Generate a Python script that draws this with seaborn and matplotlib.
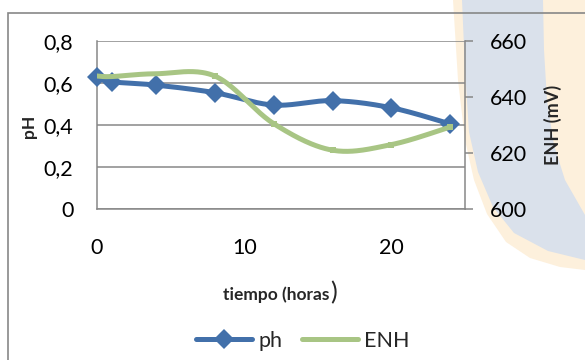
import numpy as np
import pandas as pd
import matplotlib
matplotlib.use("Agg")
import matplotlib.pyplot as plt
import seaborn as sns
from matplotlib.patches import Polygon, Rectangle
from matplotlib.lines import Line2D

# ---------------- data ----------------
tiempo = [0, 1, 4, 8, 12, 16, 20, 24]
ph = [0.63, 0.606, 0.59, 0.554, 0.495, 0.516, 0.482, 0.405]
enh = [647.5, 647.3, 648.3, 647.5, 630.5, 621.0, 623.0, 629.3]
x_ticks = [0, 10, 20]
ph_ticks = [0, 0.2, 0.4, 0.6, 0.8]
ph_tick_labels = ["0", "0,2", "0,4", "0,6", "0,8"]
enh_ticks = [600, 620, 640, 660]
enh_tick_labels = ["600", "620", "640", "660"]
series_names = ["ph", "ENH"]

BLUE = "#4270AA"
GREEN = "#A8C584"
GRAY = "#878787"

sns.set_theme(style="white")
plt.rcParams["font.family"] = ["Lato", "DejaVu Sans"]

W, H = 585, 360
fig = plt.figure(figsize=(W / 100, H / 100), dpi=100)
fig.patch.set_facecolor("white")


def fx(px):
    return px / W


def fy(py):
    return 1 - py / H


# ---------------- watermark (background logo fragment) ----------------
peach = [(453, 0), (585, 0), (585, 270), (560, 267), (530, 258), (506, 242),
         (487, 214), (474, 180), (465, 140), (458, 80)]
blue_band = [(462, 0), (543, 0), (544, 50), (547, 100), (554, 145), (565, 180),
             (585, 215), (585, 260), (548, 251), (514, 233), (493, 207),
             (478, 172), (469, 132), (465, 70)]
fig.patches.append(Polygon([(fx(a), fy(b)) for a, b in peach], closed=True,
                           transform=fig.transFigure, facecolor="#FDF0DC",
                           edgecolor="none", zorder=-10))
fig.patches.append(Polygon([(fx(a), fy(b)) for a, b in blue_band], closed=True,
                           transform=fig.transFigure, facecolor="#DAE1EB",
                           edgecolor="none", zorder=-9))

# outer chart border
fig.patches.append(Rectangle((fx(8), -0.5), 2, fy(13) + 0.5, fill=False,
                             transform=fig.transFigure, edgecolor=GRAY,
                             linewidth=1.2, zorder=5))


# ---------------- smoothing (Excel-like bezier rendering) ----------------
def smooth_curve(xs, ys, n=40):
    p = np.column_stack([xs, ys]).astype(float)
    out = []
    for i in range(len(p) - 1):
        p0 = p[i - 1] if i > 0 else p[i]
        p1 = p[i]
        p2 = p[i + 1]
        p3 = p[i + 2] if i + 2 < len(p) else p[i + 1]
        c1 = p1 + (p2 - p0) / 6.0
        c2 = p2 - (p3 - p1) / 6.0
        t = np.linspace(0, 1, n)[:, None]
        seg = ((1 - t) ** 3) * p1 + 3 * ((1 - t) ** 2) * t * c1 + \
            3 * (1 - t) * t ** 2 * c2 + t ** 3 * p2
        out.append(seg if i == 0 else seg[1:])
    c = np.vstack(out)
    return c[:, 0], c[:, 1]


df = pd.DataFrame({"tiempo": tiempo, "ph": ph, "enh": enh})

ax = fig.add_axes([fx(97), fy(209), (465 - 97) / W, (209 - 41) / H])
ax.patch.set_alpha(0)
ax2 = ax.twinx()
ax2.patch.set_alpha(0)

# pH series
sx, sy = smooth_curve(df["tiempo"], df["ph"])
sns.lineplot(x=sx, y=sy, ax=ax, color=BLUE, linewidth=3.6, sort=False,
             estimator=None, zorder=4)
ax.plot(df["tiempo"], df["ph"], linestyle="none", marker="D", markersize=10,
        color=BLUE, markeredgewidth=0, zorder=5, clip_on=False)

# ENH series
ex, ey = smooth_curve(df["tiempo"], df["enh"])
sns.lineplot(x=ex, y=ey, ax=ax2, color=GREEN, linewidth=3.6, sort=False,
             estimator=None, zorder=3)
ax2.plot(df["tiempo"][3:], df["enh"][3:], linestyle="none", marker="s",
         markersize=5, color=GREEN, markeredgewidth=0, zorder=3)

# axes styling
ax.set_xlim(0, 25)
ax.set_ylim(0, 0.8)
ax2.set_ylim(600, 660)
ax.set_xticks(x_ticks, labels=[str(v) for v in x_ticks])
ax.set_yticks(ph_ticks, labels=ph_tick_labels)
ax2.set_yticks(enh_ticks, labels=enh_tick_labels)
ax.set_xlabel("")
ax.set_ylabel("")
ax2.set_ylabel("")

ax.yaxis.grid(True, color=GRAY, linewidth=1.1)
ax.xaxis.grid(False)
ax2.grid(False)
ax.set_axisbelow(True)

for a in (ax, ax2):
    for s in a.spines.values():
        s.set_visible(False)
ax.spines["left"].set_visible(True)
ax.spines["left"].set_color(GRAY)
ax.spines["left"].set_linewidth(1.1)
ax.spines["bottom"].set_visible(True)
ax.spines["bottom"].set_color(GRAY)
ax.spines["bottom"].set_linewidth(1.1)
ax2.spines["right"].set_visible(True)
ax2.spines["right"].set_color(GRAY)
ax2.spines["right"].set_linewidth(1.1)

tick_fs = 15.5
ax.tick_params(axis="y", length=0, pad=17, labelsize=tick_fs, labelcolor="black")
ax.tick_params(axis="x", length=0, pad=21, labelsize=tick_fs, labelcolor="black")
ax2.tick_params(axis="y", right=True, length=6, width=1.1, color=GRAY,
                pad=12, labelsize=tick_fs, labelcolor="black")

# axis titles
fig.text(fx(29), fy(126), "pH", rotation=90, ha="center", va="center",
         fontsize=12.5, fontweight="bold")
fig.text(fx(553), fy(125), "ENH (mV)", rotation=90, ha="center", va="center",
         fontsize=13, fontweight="bold")
t1 = fig.text(fx(223), fy(295), "tiempo (horas", ha="left", va="center",
              fontsize=12.5, fontweight="bold")
fig.canvas.draw()
bb = t1.get_window_extent(fig.canvas.get_renderer())
fig.text(bb.x1 / W + 0.001, fy(293), ")", ha="left", va="center", fontsize=18)

# legend
handles = [Line2D([], [], color=BLUE, linewidth=3.6, marker="D", markersize=10,
                  markeredgewidth=0),
           Line2D([], [], color=GREEN, linewidth=3.6)]
fig.legend(handles, series_names, loc="center", bbox_to_anchor=(fx(303), fy(341)),
           ncol=2, frameon=False, fontsize=tick_fs, handlelength=2.6,
           handletextpad=0.3, columnspacing=0.9, borderaxespad=0)

fig.savefig("out.png", dpi=100)
